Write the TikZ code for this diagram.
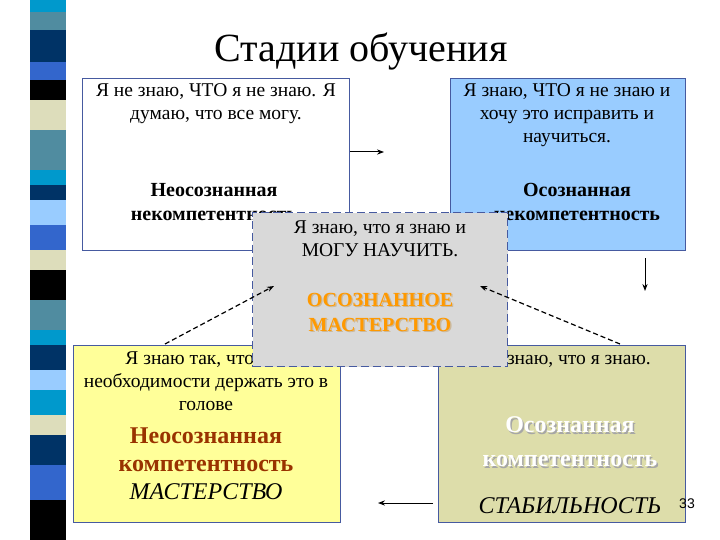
\documentclass[tikz,border=0pt]{standalone}
\usepackage{fontspec}
\setmainfont{Liberation Serif}
\newfontfamily\arialf{Liberation Sans}
\usetikzlibrary{arrows.meta}
\definecolor{cA}{RGB}{0,153,204}\definecolor{cB}{RGB}{80,140,160}
\definecolor{cC}{RGB}{0,51,102}\definecolor{cD}{RGB}{51,102,204}
\definecolor{cE}{RGB}{221,221,187}\definecolor{cF}{RGB}{153,204,255}
\definecolor{bord}{RGB}{70,90,160}
\definecolor{lblue}{RGB}{153,204,255}\definecolor{lyel}{RGB}{255,255,153}
\definecolor{khaki}{RGB}{221,221,170}\definecolor{gbox}{RGB}{217,217,217}
\definecolor{orng}{RGB}{255,153,0}\definecolor{brn}{RGB}{153,51,0}
\begin{document}
\begin{tikzpicture}[x=1pt,y=-1pt,
 box/.style={draw=bord,line width=1.2pt},
 txt/.style={align=center,font=\fontsize{19.5}{23}\selectfont},
 lbl/.style={align=center,font=\fontsize{20}{24}\selectfont\bfseries},
 arr/.style={-{Stealth[length=7pt]},line width=1pt},
 darr/.style={-{Stealth[length=7pt]},line width=1.2pt,dash pattern=on 5pt off 3pt}]
\useasboundingbox (0,0) rectangle (720,540);
\fill[white](0,0) rectangle (720,540);
\foreach \a/\b/\c in {0/12/cA,12/30/cB,30/62/cC,62/80/cD,80/100/black,100/130/cE,130/170/cB,170/185/cA,185/200/cC,200/225/cF,225/250/cD,250/270/cE,270/300/black,300/330/cB,330/345/cA,345/370/cC,370/390/cF,390/415/cA,415/435/cE,435/465/cC,465/500/cD,500/540/black}
 \fill[\c] (30,\a) rectangle (66,\b);
\node (title) at (361,52) {\fontsize{40}{44}\selectfont Стадии обучения};
\node[box,fill=white,minimum width=267,minimum height=172,anchor=north west] (tl) at (82,78) {};
\node[box,fill=lblue,minimum width=235,minimum height=172,anchor=north west] (tr) at (450,78) {};
\node[box,fill=lyel,minimum width=267,minimum height=177,anchor=north west] (bl) at (73,345) {};
\node[box,fill=khaki,minimum width=247,minimum height=177,anchor=north west] (br) at (438,345) {};
\node[txt,anchor=north] at (216,80) {Я не знаю, ЧТО я не знаю. Я\\думаю, что все могу.};
\node[lbl] at (214,202) {Неосознанная\\некомпетентность};
\node[txt,anchor=north] at (567,80) {Я знаю, ЧТО я не знаю и\\хочу это исправить и\\научиться.};
\node[lbl] at (577,202) {Осознанная\\некомпетентность};
\node[txt,anchor=north] at (206,348) {Я знаю так, что нет\\необходимости держать это в\\голове};
\node[align=center,font=\fontsize{24}{28}\selectfont\bfseries,text=brn] at (206,450) {Неосознанная\\компетентность};
\node[font=\fontsize{24}{28}\selectfont\itshape] at (206,492) {МАСТЕРСТВО};
\node[txt,anchor=north] at (570,348) {Я знаю, что я знаю.};
\node[align=center,font=\fontsize{24}{34}\selectfont\bfseries,text=black!35] at (571.5,443.5) {Осознанная\\компетентность};
\node[align=center,font=\fontsize{24}{34}\selectfont\bfseries,text=white] at (570,442) {Осознанная\\компетентность};
\node[font=\fontsize{24}{28}\selectfont\itshape] at (570,506) {СТАБИЛЬНОСТЬ};
\node[font=\arialf\fontsize{14}{16}\selectfont] at (687,504) {33};
\node[draw=bord,dash pattern=on 8pt off 4pt,line width=1.4pt,fill=gbox,minimum width=255,minimum height=154,anchor=north west] (c) at (252,212) {};
\node[txt,anchor=north] at (380,217) {Я знаю, что я знаю и\\МОГУ НАУЧИТЬ.};
\node[align=center,font=\fontsize{20}{25}\selectfont\bfseries,text=orng!50!black!40] at (381.3,313.3) {ОСОЗНАННОЕ\\МАСТЕРСТВО};
\node[align=center,font=\fontsize{20}{25}\selectfont\bfseries,text=orng] at (380,312) {ОСОЗНАННОЕ\\МАСТЕРСТВО};
\coordinate (a1) at (350,152);\coordinate (a2) at (384,152);
\draw[arr] (a1) -- (a2);
\coordinate (b1) at (645,258);\coordinate (b2) at (645,291);
\draw[arr] (b1) -- (b2);
\coordinate (d1) at (433,503);\coordinate (d2) at (378,503);
\draw[arr] (d1) -- (d2);
\coordinate (e1) at (165,344);\coordinate (e2) at (274,286);
\draw[darr] (e1) -- (e2);
\coordinate (f1) at (620,344);\coordinate (f2) at (480,286);
\draw[darr] (f1) -- (f2);
\end{tikzpicture}
\end{document}
